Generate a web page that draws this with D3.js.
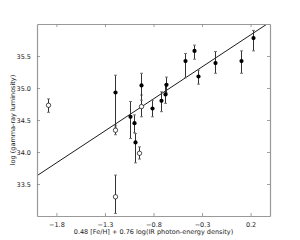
<!DOCTYPE html>
<html>
<head>
<meta charset="utf-8">
<script src="https://cdn.jsdelivr.net/npm/d3@7"></script>
<style>
    body { margin: 0; background: #fff; }
    svg { display: block; }
    .tick-label { font-family: "DejaVu Sans", sans-serif; font-size: 6.5px; fill: #222; }
    .axis-label { font-family: "DejaVu Sans", sans-serif; font-size: 6.5px; fill: #222; }
</style>
</head>
<body>
<div id="chart"></div>
<script>
// open circles
var openX   = [-1.89, -1.20, -1.195, -0.95, -0.93];
var openY   = [34.73, 34.34, 33.30, 33.98, 34.71];
var openHi  = [34.83, 34.42, 33.64, 34.08, 34.89];
var openLo  = [34.62, 34.27, 33.04, 33.89, 34.55];

// filled circles
var fillX  = [-1.20, -1.04, -1.00, -0.99, -0.925, -0.82, -0.72, -0.68, -0.667, -0.478, -0.378, -0.343, -0.162, 0.10, 0.22];
var fillY  = [34.93, 34.55, 34.45, 34.15, 35.04, 34.68, 34.80, 34.90, 35.05, 35.42, 35.58, 35.18, 35.39, 35.42, 35.78];
var fillHi = [35.20, 34.79, 34.58, 34.29, 35.23, 34.81, 34.94, 35.05, 35.17, 35.54, 35.67, 35.28, 35.57, 35.58, 35.90];
var fillLo = [34.39, 34.21, 34.30, 33.83, 34.81, 34.55, 34.63, 34.76, 34.92, 35.16, 35.45, 35.06, 35.23, 35.23, 35.58];

// fit line y = a + b x
var fitA = 35.63, fitB = 1.0;

var xTicks = [-1.8, -1.3, -0.8, -0.3, 0.2];
var yTicks = [33.5, 34.0, 34.5, 35.0, 35.5];
var xDomain = [-2.0, 0.4];
var yDomain = [33.0, 36.0];

var width = 300, height = 240;
var margin = { top: 24, right: 30, bottom: 24, left: 37 };

var svg = d3.select('#chart').append('svg')
    .attr('width', width)
    .attr('height', height);

var x = d3.scaleLinear().domain(xDomain).range([margin.left, width - margin.right]);
var y = d3.scaleLinear().domain(yDomain).range([height - margin.bottom, margin.top]);

svg.append('clipPath').attr('id', 'clip')
    .append('rect')
    .attr('x', margin.left).attr('y', margin.top)
    .attr('width', x.range()[1] - x.range()[0])
    .attr('height', y.range()[0] - y.range()[1]);

var plot = svg.append('g').attr('clip-path', 'url(#clip)');

// regression line
plot.append('line')
    .attr('x1', x(xDomain[0])).attr('y1', y(fitA + fitB * xDomain[0]))
    .attr('x2', x(xDomain[1])).attr('y2', y(fitA + fitB * xDomain[1]))
    .attr('stroke', '#000')
    .attr('stroke-width', 0.9);

function errorBars(xs, ys, lo, hi) {
    var g = plot.append('g').attr('stroke', '#333').attr('stroke-width', 1);
    xs.forEach(function (xv, i) {
        var cx = Math.round(x(xv)) + 0.5;
        g.append('line')
            .attr('x1', cx).attr('x2', cx)
            .attr('y1', y(hi[i])).attr('y2', y(lo[i]));
        [hi[i], lo[i]].forEach(function (v) {
            g.append('line')
                .attr('x1', cx - 1.5).attr('x2', cx + 1.5)
                .attr('y1', y(v)).attr('y2', y(v))
                .attr('stroke', '#777');
        });
    });
}

errorBars(openX, openY, openLo, openHi);
errorBars(fillX, fillY, fillLo, fillHi);

plot.selectAll('circle.open').data(openX).enter()
    .append('circle')
    .attr('class', 'open')
    .attr('cx', function (d) { return Math.round(x(d)) + 0.5; })
    .attr('cy', function (d, i) { return y(openY[i]); })
    .attr('r', 2.2)
    .attr('fill', '#fff')
    .attr('stroke', '#000')
    .attr('stroke-width', 0.7);

plot.selectAll('circle.fill').data(fillX).enter()
    .append('circle')
    .attr('class', 'fill')
    .attr('cx', function (d) { return Math.round(x(d)) + 0.5; })
    .attr('cy', function (d, i) { return y(fillY[i]); })
    .attr('r', 2.1)
    .attr('fill', '#000');

// axes (ticks inward on all sides)
var tickLen = -3;
var axes = [
    { pos: 'bottom', gen: d3.axisBottom(x).tickValues(xTicks), tr: 'translate(0,' + y.range()[0] + ')', labels: true },
    { pos: 'top', gen: d3.axisTop(x).tickValues(xTicks), tr: 'translate(0,' + y.range()[1] + ')', labels: false },
    { pos: 'left', gen: d3.axisLeft(y).tickValues(yTicks), tr: 'translate(' + x.range()[0] + ',0)', labels: true },
    { pos: 'right', gen: d3.axisRight(y).tickValues(yTicks), tr: 'translate(' + x.range()[1] + ',0)', labels: false }
];
axes.forEach(function (a) {
    var g = svg.append('g')
        .attr('transform', a.tr)
        .call(a.gen.tickSizeInner(tickLen).tickSizeOuter(0).tickPadding(6)
            .tickFormat(function (d) { return d3.format('.1f')(d).replace('-', '\u2212'); }));
    g.select('.domain').attr('stroke', '#999').attr('stroke-width', 1.2);
    g.selectAll('.tick line').attr('stroke', '#888').attr('stroke-width', 0.8);
    if (a.labels) {
        g.selectAll('.tick text').attr('class', 'tick-label').attr('fill', null).style('font-size', null).style('font-family', null);
        g.attr('font-size', null).attr('font-family', null);
    } else {
        g.selectAll('.tick text').remove();
    }
});

svg.append('text')
    .attr('class', 'axis-label')
    .attr('x', (x.range()[0] + x.range()[1]) / 2)
    .attr('y', 234)
    .attr('text-anchor', 'middle')
    .text('0.48 [Fe/H] + 0.76 log(IR photon-energy density)');

svg.append('text')
    .attr('class', 'axis-label')
    .attr('transform', 'translate(15,' + ((y.range()[0] + y.range()[1]) / 2) + ') rotate(-90)')
    .attr('text-anchor', 'middle')
    .text('log (gamma-ray luminosity)');
</script>
</body>
</html>
